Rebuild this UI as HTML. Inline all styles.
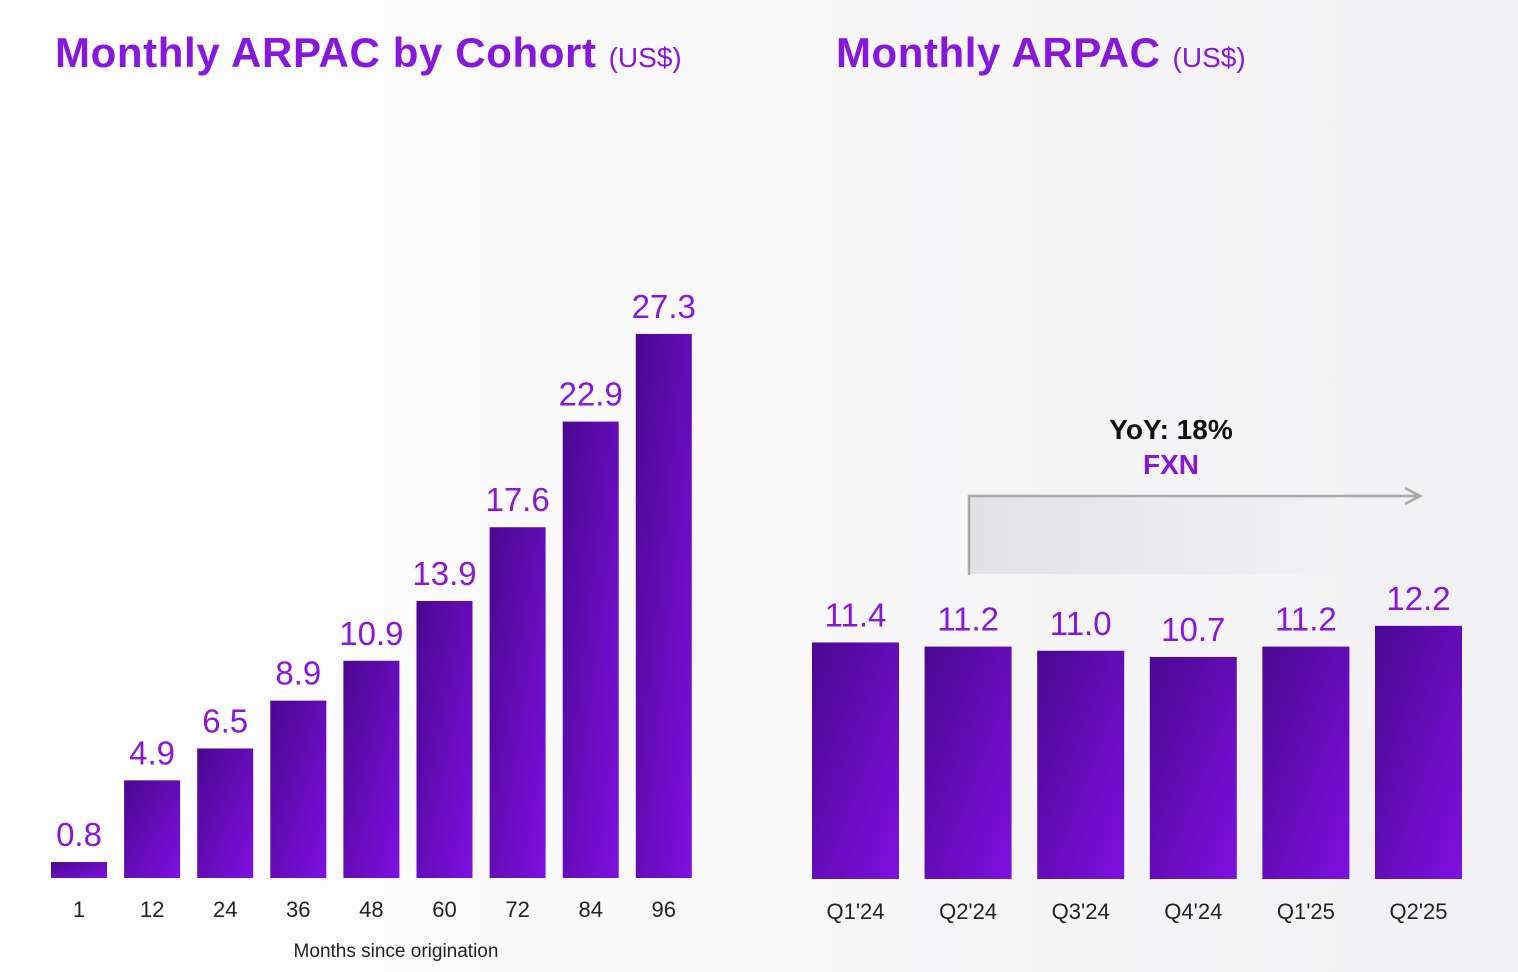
<!DOCTYPE html>
<html><head><meta charset="utf-8"><style>
html,body{margin:0;padding:0;width:1518px;height:972px;overflow:hidden;background:#f7f7f8}
svg{display:block;font-family:"Liberation Sans",sans-serif}
</style></head><body>
<svg id="c" width="1518" height="972">
<defs>
<linearGradient id="bg" x1="0" y1="0" x2="1" y2="0"><stop offset="0" stop-color="#ffffff"/><stop offset="1" stop-color="#f1f1f3"/></linearGradient>
<linearGradient id="bar" x1="0" y1="0" x2="1" y2="1"><stop offset="0" stop-color="#4a0890"/><stop offset="1" stop-color="#7e10e0"/></linearGradient>
<linearGradient id="box" x1="0" y1="0" x2="1" y2="0"><stop offset="0" stop-color="#e2e2e4"/><stop offset="1" stop-color="#f2f2f4"/></linearGradient>
</defs>
<rect width="1518" height="972" fill="url(#bg)"/>
<text x="55" y="67" font-size="42" font-weight="bold" fill="#8717dd"><tspan textLength="541">Monthly ARPAC by Cohort</tspan><tspan dx="12" font-size="28" font-weight="normal">(US$)</tspan></text>
<text x="836" y="67" font-size="42" font-weight="bold" fill="#8717dd"><tspan textLength="324">Monthly ARPAC</tspan><tspan dx="12" font-size="28" font-weight="normal">(US$)</tspan></text>
<rect x="970" y="497" width="363" height="77" fill="url(#box)"/>
<path d="M969 575 V496 H1420 M1405 488 L1420 496 L1405 504" fill="none" stroke="#a8a8a8" stroke-width="2.5"/>
<text x="1171" y="439" font-size="28" font-weight="bold" fill="#111" text-anchor="middle">YoY: 18%</text>
<text x="1171" y="474" font-size="28" font-weight="bold" fill="#8717dd" text-anchor="middle">FXN</text>
<text x="396" y="957" font-size="19" fill="#222" text-anchor="middle">Months since origination</text>
<g id="left"></g><g id="right"></g>
</svg>
<script>
const cohortLabels=["1","12","24","36","48","60","72","84","96"];
const cohortValues=[0.8,4.9,6.5,8.9,10.9,13.9,17.6,22.9,27.3];
const quarterLabels=["Q1'24","Q2'24","Q3'24","Q4'24","Q1'25","Q2'25"];
const quarterValues=[11.4,11.2,11.0,10.7,11.2,12.2];
const NS="http://www.w3.org/2000/svg";
function mk(p,tag,a,txt){const e=document.createElementNS(NS,tag);for(const k in a)e.setAttribute(k,a[k]);if(txt!==undefined)e.textContent=txt;p.appendChild(e);return e;}
function draw(gid,labels,values,x0,step,bw,base,scale,labY,key){
  const g=document.getElementById(gid);
  const y=v=>base-v*scale;
  labels.forEach((l,i)=>{
    const x=x0+i*step, v=values[i];
    const r=mk(g,'rect',{x:x,y:y(v),width:bw,height:base-y(v),fill:'url(#bar)'});
    
    
    const t=mk(g,'text',{x:x+bw/2,y:y(v)-16,'font-size':33,fill:'#8717dd','text-anchor':'middle'},v.toFixed(1));
    
    
    const xl=mk(g,'text',{x:x+bw/2,y:labY,'font-size':22,fill:'#222','text-anchor':'middle'},l);
    
    
  });
}
draw('left',cohortLabels,cohortValues,51,73.1,56,878,19.93,917,'cohort');
draw('right',quarterLabels,quarterValues,812,112.6,87,879,20.75,919,'quarter');
</script>
</body></html>
